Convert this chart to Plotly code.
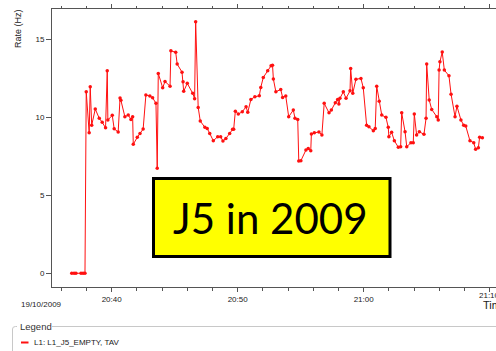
import plotly.graph_objects as go

DATE = "2009-10-19"

times = [
    "20:36:50", "20:37:01", "20:37:10", "20:37:34", "20:37:44", "20:37:53",
    "20:37:59", "20:38:13", "20:38:18", "20:38:25", "20:38:42", "20:39:01", "20:39:15", "20:39:31",
    "20:39:39", "20:39:42", "20:40:03", "20:40:12", "20:40:31", "20:40:40", "20:40:44", "20:41:03",
    "20:41:19", "20:41:32", "20:41:40", "20:41:43", "20:42:02", "20:42:15", "20:42:30", "20:42:43",
    "20:43:02", "20:43:15", "20:43:31", "20:43:37", "20:43:42", "20:44:03", "20:44:14", "20:44:38",
    "20:44:42", "20:45:05", "20:45:12", "20:45:35", "20:45:40", "20:45:43", "20:46:00", "20:46:26",
    "20:46:35", "20:46:40", "20:46:52", "20:47:02", "20:47:24", "20:47:35", "20:47:47", "20:48:04",
    "20:48:25", "20:48:39", "20:48:50", "20:49:04", "20:49:22", "20:49:36", "20:49:41", "20:49:49",
    "20:50:03", "20:50:22", "20:50:40", "20:50:48", "20:51:03", "20:51:22", "20:51:43", "20:51:50",
    "20:52:02", "20:52:23", "20:52:39", "20:52:46", "20:52:50", "20:53:02", "20:53:25", "20:53:34",
    "20:53:49", "20:54:03", "20:54:25", "20:54:33", "20:54:46", "20:54:51", "20:55:01", "20:55:25",
    "20:55:36", "20:55:48", "20:55:51", "20:56:05", "20:56:27", "20:56:41", "20:56:52", "20:57:15",
    "20:57:26", "20:57:45", "20:57:56", "20:58:02", "20:58:07", "20:58:23", "20:58:36", "20:58:55",
    "20:58:58", "20:59:08", "20:59:23", "20:59:47", "20:59:58", "21:00:14", "21:00:25", "21:00:46",
    "21:00:55", "21:01:02", "21:01:14", "21:01:26", "21:01:46", "21:01:57", "21:02:00", "21:02:13",
    "21:02:26", "21:02:45", "21:02:56", "21:03:01", "21:03:17", "21:03:25", "21:03:45", "21:03:56",
    "21:04:01", "21:04:12", "21:04:25", "21:04:47", "21:04:57", "21:05:00", "21:05:12", "21:05:24",
    "21:05:48", "21:05:55", "21:05:59", "21:06:03", "21:06:14", "21:06:24", "21:06:46", "21:06:56",
    "21:07:15", "21:07:24", "21:07:43", "21:07:56", "21:08:06", "21:08:26", "21:08:44", "21:08:53",
    "21:09:06", "21:09:12", "21:09:25",
]

rates = [
    0, 0, 0, 0, 0, 0,
    11.64, 9.01, 11.96, 9.5, 10.53, 9.94, 9.68, 9.33,
    12.99, 9.83, 10.13, 9.27, 9.06, 11.24, 11.1, 10.04,
    10.15, 9.87, 10.04, 8.27, 8.72, 8.97, 9.25, 11.43,
    11.37, 11.26, 10.9, 6.73, 12.82, 11.9, 12.3, 12.0,
    14.27, 14.17, 13.42, 12.9, 12.28, 11.67, 12.18, 11.54,
    11.2, 16.13, 10.64, 9.76, 9.36, 9.29, 8.97, 8.5,
    8.76, 8.76, 8.48, 8.65, 8.97, 9.23, 9.23, 10.4,
    10.21, 10.36, 10.68, 10.32, 11.15, 11.32, 11.38, 11.92,
    12.56, 12.99, 13.31, 13.35, 12.46, 11.64, 11.79, 11.28,
    11.37, 10.04, 10.47, 9.94, 9.87, 7.2, 7.22, 7.9,
    8.01, 7.86, 8.93, 9.01, 9.06, 8.87, 10.9, 10.29,
    10.47, 10.94, 11.15, 10.85, 11.22, 11.64, 11.22, 11.7,
    13.14, 11.54, 12.44, 12.5, 11.9, 9.5, 9.4, 9.14,
    9.29, 12.0, 11.04, 10.15, 10.0, 9.36, 8.76, 9.04,
    8.5, 8.08, 8.12, 10.29, 9.08, 8.12, 8.37, 8.37,
    10.21, 8.87, 9.08, 8.91, 9.94, 13.42, 11.11, 10.51,
    10.04, 9.83, 13.03, 13.56, 14.19, 13.03, 12.67, 11.49,
    10.04, 10.72, 9.83, 9.5, 9.44, 8.5, 8.37, 7.95,
    8.05, 8.72, 8.69,
]

x_range = ["20:35:16", "21:10:30"]
y_range = [-0.88, 16.95]
last_tick = "21:10"
series_name = "L1: L1_J5_EMPTY, TAV"
y_title = "Rate (Hz)"
x_title = "Time"
date_label = "19/10/2009"
banner_text = "J5 in 2009"

W, H = 496, 351
ML, MR, MT, MB = 52, 0, 9, 64
PW, PH = W - ML - MR, H - MT - MB


def px(x):
    return (x - ML) / PW


def py(y):
    return (H - MB - y) / PH


RED = "#ff1010"
AXC = "#555555"
TXT = "#222222"
FONT = "Liberation Sans, Arial, sans-serif"

fig = go.Figure()
fig.add_trace(go.Scatter(
    x=[f"{DATE} {t}" for t in times],
    y=rates,
    mode="lines+markers",
    line=dict(color=RED, width=1),
    marker=dict(color=RED, size=3.5, symbol="circle"),
    name=series_name,
    showlegend=False,
))

fig.update_layout(
    width=W, height=H,
    margin=dict(l=ML, r=MR, t=MT, b=MB),
    paper_bgcolor="white",
    plot_bgcolor="white",
    font=dict(family=FONT, size=8, color=TXT),
    showlegend=False,
)

fig.update_xaxes(
    type="date",
    range=[f"{DATE} {x_range[0]}", f"{DATE} {x_range[1]}"],
    tickformat="%H:%M",
    tick0=f"{DATE} 20:00:00",
    dtick=600000,
    ticks="outside", ticklen=4, tickwidth=1, tickcolor=AXC,
    minor=dict(dtick=120000, tick0=f"{DATE} 20:00:00", ticks="outside",
               ticklen=2.5, tickcolor=AXC, showgrid=False),
    showline=True, linecolor=AXC, linewidth=1, mirror="ticks",
    showgrid=False, zeroline=False,
    tickfont=dict(size=8, color=TXT),
)
fig.update_yaxes(
    range=y_range,
    tickvals=[0, 5, 10, 15],
    ticks="outside", ticklen=5, tickwidth=1, tickcolor=AXC,
    showline=True, linecolor=AXC, linewidth=1,
    showgrid=False, zeroline=False,
    tickfont=dict(size=8, color=TXT),
)

LEG = "#c8c8c8"
shapes = [
    # yellow banner
    dict(type="rect", xref="paper", yref="paper",
         x0=px(153.5), x1=px(390), y0=py(256.5), y1=py(178.5),
         fillcolor="#ffff00", line=dict(color="black", width=3)),
    # legend frame
    dict(type="line", xref="paper", yref="paper",
         x0=px(12.5), x1=px(12.5), y0=py(351), y1=py(329),
         line=dict(color=LEG, width=1)),
    dict(type="path", xref="paper", yref="paper",
         path=f"M {px(12.5)},{py(329)} Q {px(12.5)},{py(326.5)} {px(15.5)},{py(326.5)} L {px(17)},{py(326.5)}",
         line=dict(color=LEG, width=1)),
    dict(type="line", xref="paper", yref="paper",
         x0=px(52), x1=px(496), y0=py(326.5), y1=py(326.5),
         line=dict(color=LEG, width=1)),
    # legend sample line
    dict(type="line", xref="paper", yref="paper",
         x0=px(21), x1=px(28.5), y0=py(342.5), y1=py(342.5),
         line=dict(color=RED, width=2)),
]
fig.update_layout(shapes=shapes)

annotations = [
    dict(text=banner_text, xref="paper", yref="paper",
         x=px(270), y=py(218), xanchor="center", yanchor="middle",
         showarrow=False, font=dict(family="Lato, Open Sans, sans-serif", size=42, color="black")),
    dict(text=y_title, xref="paper", yref="paper",
         x=px(18), y=py(29), xanchor="center", yanchor="middle", textangle=-90,
         showarrow=False, font=dict(size=9, color=TXT)),
    dict(text=date_label, xref="paper", yref="paper",
         x=px(19), y=py(304), xanchor="left", yanchor="middle",
         showarrow=False, font=dict(size=8, color=TXT)),
    dict(text=last_tick, xref="x", yref="paper",
         x=f"{DATE} {last_tick}:00", y=py(295.5), xanchor="center", yanchor="middle",
         showarrow=False, font=dict(size=8, color=TXT)),
    dict(text=x_title, xref="paper", yref="paper",
         x=px(481), y=py(305), xanchor="left", yanchor="middle",
         showarrow=False, font=dict(size=11, color=TXT)),
    dict(text="Legend", xref="paper", yref="paper",
         x=px(18), y=py(326), xanchor="left", yanchor="middle",
         showarrow=False, font=dict(size=9.5, color="#333333")),
    dict(text=series_name, xref="paper", yref="paper",
         x=px(32), y=py(342.5), xanchor="left", yanchor="middle",
         showarrow=False, font=dict(size=8, color=TXT)),
]
fig.update_layout(annotations=annotations)

fig.write_html(
    "out.html",
    config={"displayModeBar": False},
    post_script="document.body.style.margin='0px';document.body.style.overflow='hidden';",
)
